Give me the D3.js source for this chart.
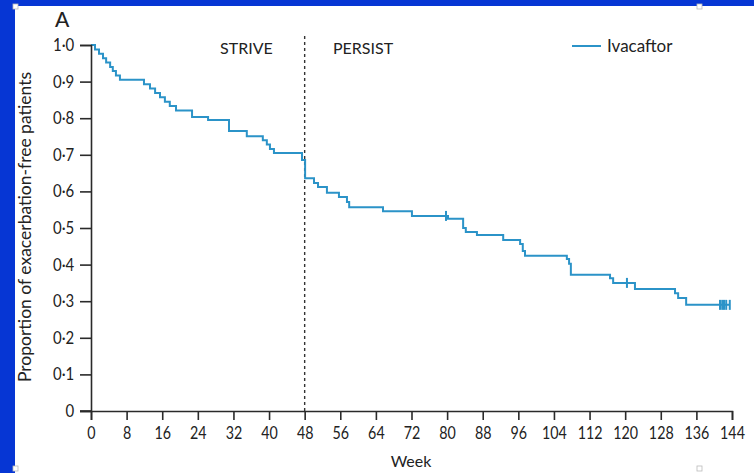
<!DOCTYPE html>
<html>
<head>
<meta charset="utf-8">
<script src="https://cdn.jsdelivr.net/npm/d3@7/dist/d3.min.js"></script>
<style>
  html, body { margin: 0; padding: 0; background: #0636d4; }
  svg { display: block; }
  text { font-family: Lato, "Open Sans", sans-serif; fill: #222; }
</style>
</head>
<body>
<script>
// ---- data (Kaplan–Meier, Ivacaftor) ----
const eventWeeks = [0, 0.9, 1.8, 2.7, 3.4, 4.3, 4.9, 5.6, 6.5,
  11.9, 13.25, 14.4, 15.5, 16.6, 17.7, 19.1, 22.7, 26.3, 31.0, 35.0,
  38.6, 39.5, 40.2, 41.1, 47.4, 48.1, 50.1, 51.0, 53.0, 55.7, 57.5, 58.0,
  65.6, 72.1, 80.2, 83.6, 84.2, 86.7, 92.6, 96.4, 97.0, 97.5,
  106.9, 107.4, 107.8, 116.6, 117.3, 122.2, 131.2, 131.9, 133.7, 143.5];
const survival = [1.0, 0.988, 0.976, 0.964, 0.952, 0.940, 0.929, 0.917, 0.905,
  0.893, 0.881, 0.869, 0.857, 0.845, 0.833, 0.821, 0.803, 0.795, 0.765, 0.751,
  0.740, 0.728, 0.716, 0.705, 0.686, 0.636, 0.623, 0.612, 0.596, 0.585, 0.571, 0.557,
  0.546, 0.533, 0.525, 0.500, 0.489, 0.481, 0.467, 0.456, 0.437, 0.424,
  0.415, 0.402, 0.372, 0.363, 0.350, 0.333, 0.322, 0.309, 0.290, 0.290];
const censorWeeks = [79.75, 120.4, 141.3, 141.8, 142.2, 142.7, 143.5];
const xTicks = [0, 8, 16, 24, 32, 40, 48, 56, 64, 72, 80, 88, 96, 104, 112, 120, 128, 136, 144];
const yTicks = [0, 0.1, 0.2, 0.3, 0.4, 0.5, 0.6, 0.7, 0.8, 0.9, 1.0];
const studyBreakWeek = 48;
const seriesName = "Ivacaftor";

const W = 754, H = 473;
const lineColor = "#2b93c8";
const axisColor = "#2a2a2a";

const svg = d3.select("body").append("svg").attr("width", W).attr("height", H);

// white panel
svg.append("rect").attr("x", 15).attr("y", 6).attr("width", W - 15).attr("height", H - 6).attr("fill", "#fff");
// slide corner marks
[[13, 4], [697, 4], [13, 466], [697, 466]].forEach(([cx, cy]) => {
  svg.append("rect").attr("x", cx).attr("y", cy).attr("width", 5).attr("height", 5)
    .attr("fill", "#fff").attr("stroke", "#bbb").attr("stroke-width", 0.8);
});

const x = d3.scaleLinear().domain([0, 144]).range([91, 732]);
const y = d3.scaleLinear().domain([0, 1]).range([411, 45]);

// survival step line
const pts = eventWeeks.map((w, i) => [w, survival[i]]);
const line = d3.line().x(d => x(d[0])).y(d => y(d[1])).curve(d3.curveStepAfter);

// dashed divider
svg.append("line")
  .attr("x1", x(studyBreakWeek)).attr("x2", x(studyBreakWeek))
  .attr("y1", 36).attr("y2", y(0))
  .attr("stroke", "#333").attr("stroke-width", 1.4).attr("stroke-dasharray", "3,3");

svg.append("path").attr("d", line(pts)).attr("fill", "none")
  .attr("stroke", lineColor).attr("stroke-width", 2);

// censor marks
const survAt = w => { let s = survival[0]; eventWeeks.forEach((e, i) => { if (e <= w) s = survival[i]; }); return s; };
censorWeeks.forEach(w => {
  const s = survAt(w);
  svg.append("line").attr("x1", x(w)).attr("x2", x(w))
    .attr("y1", y(s) - 5).attr("y2", y(s) + 5)
    .attr("stroke", lineColor).attr("stroke-width", 2);
});

// axes
const fmt = d => d === 0 ? "0" : d3.format(".1f")(d).replace(".", "·");
const yAxis = svg.append("g").attr("transform", `translate(${x(0)},0)`)
  .call(d3.axisLeft(y).tickValues(yTicks).tickFormat(fmt).tickSize(11).tickPadding(6));
const xAxis = svg.append("g").attr("transform", `translate(0,${y(0)})`)
  .call(d3.axisBottom(x).tickValues(xTicks).tickSize(9).tickPadding(7));
[yAxis, xAxis].forEach(g => {
  g.select(".domain").attr("stroke", axisColor).attr("stroke-width", 1.6);
  g.selectAll(".tick line").attr("stroke", axisColor).attr("stroke-width", 1.6);
  g.selectAll(".tick text").attr("fill", "#222").style("font-family", "Lato, sans-serif").style("font-size", "17px");
});
// condensed look for tick labels
xAxis.selectAll(".tick text").attr("transform", "scale(0.84,1)");
yAxis.selectAll(".tick text").attr("transform", "scale(0.88,1)").attr("x", -19);
// x axis baseline extends left of the y axis
svg.append("line").attr("x1", 80).attr("x2", x(0)).attr("y1", y(0)).attr("y2", y(0))
  .attr("stroke", axisColor).attr("stroke-width", 1.6);

// labels
svg.append("text").attr("x", 55).attr("y", 27).style("font-size", "21px").style("font-weight", "500").text("A");
svg.append("text").attr("transform", "translate(31,227) rotate(-90)").attr("text-anchor", "middle")
  .style("font-size", "17.5px").text("Proportion of exacerbation-free patients");
svg.append("text").attr("x", 411).attr("y", 467).attr("text-anchor", "middle").style("font-size", "16px").text("Week");
svg.append("text").attr("x", 220).attr("y", 54).style("font-size", "16px").text("STRIVE");
svg.append("text").attr("x", 333).attr("y", 54).style("font-size", "16px").text("PERSIST");

// legend
svg.append("line").attr("x1", 572).attr("x2", 601).attr("y1", 46).attr("y2", 46)
  .attr("stroke", lineColor).attr("stroke-width", 2);
svg.append("text").attr("x", 607).attr("y", 52).style("font-size", "17px").text(seriesName);
</script>
</body>
</html>
